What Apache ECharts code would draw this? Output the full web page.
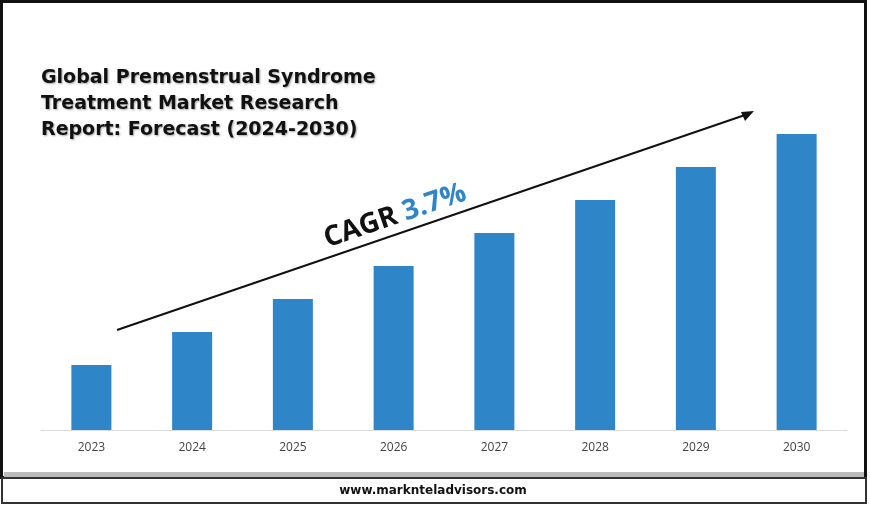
<!DOCTYPE html><html><head><meta charset="utf-8"><script src="https://cdn.jsdelivr.net/npm/echarts@6/dist/echarts.min.js"></script>
<style>html,body{margin:0;padding:0;background:#fff}#c{width:870px;height:506px}</style></head><body><div id="c"></div><script>
const categories=['2023','2024','2025','2026','2027','2028','2029','2030'];
const values=[65,98,131,164,197,230,263,296];
const chart=echarts.init(document.getElementById('c'));
const F='"DejaVu Sans", sans-serif';
chart.setOption({
 animation:false,
 title:{text:'Global Premenstrual Syndrome\nTreatment Market Research\nReport: Forecast (2024-2030)',left:36,top:60,textStyle:{fontFamily:F,fontSize:19,fontWeight:'bold',color:'#111',lineHeight:26,textShadowColor:'rgba(0,0,0,0.35)',textShadowBlur:2,textShadowOffsetX:1,textShadowOffsetY:1}},
 grid:{left:41,right:23,top:100,bottom:76},
 xAxis:{type:'category',data:categories,axisTick:{show:false},axisLine:{lineStyle:{color:'#dcdcdc'}},axisLabel:{color:'#444',fontFamily:'"Open Sans", sans-serif',fontSize:12,margin:12}},
 yAxis:{type:'value',min:0,max:330,show:false,splitLine:{show:false}},
 series:[{type:'bar',data:values,barWidth:40,itemStyle:{color:'#2e86c8'}}],
 graphic:[
  {type:'rect',shape:{x:1.5,y:1.5,width:864,height:476},style:{fill:'none',stroke:'#111',lineWidth:3},z:-1},
  {type:'rect',shape:{x:4,y:472,width:860,height:5},style:{fill:'#bbb'},z:-1},
  {type:'rect',shape:{x:2,y:478,width:864,height:25},style:{fill:'#fff',stroke:'#333',lineWidth:2},z:-1},
  {type:'text',x:433,y:491,style:{text:'www.marknteladvisors.com',fill:'#111',font:'bold 12px "DejaVu Sans", sans-serif',align:'center',verticalAlign:'middle'}},
  {type:'line',shape:{x1:117,y1:330,x2:745,y2:115},style:{stroke:'#111',lineWidth:2}},
  {type:'polygon',shape:{points:[[754,111],[741,112],[745,121]]},style:{fill:'#111'}},
  {type:'text',x:395,y:216,rotation:0.33,style:{rich:{a:{font:'bold 28px "Open Sans", sans-serif',fill:'#111'},b:{font:'bold 28px "Open Sans", sans-serif',fill:'#2e86c8'}},text:'{a|CAGR }{b|3.7%}',align:'center',verticalAlign:'middle'}}
 ]
});
</script></body></html>
